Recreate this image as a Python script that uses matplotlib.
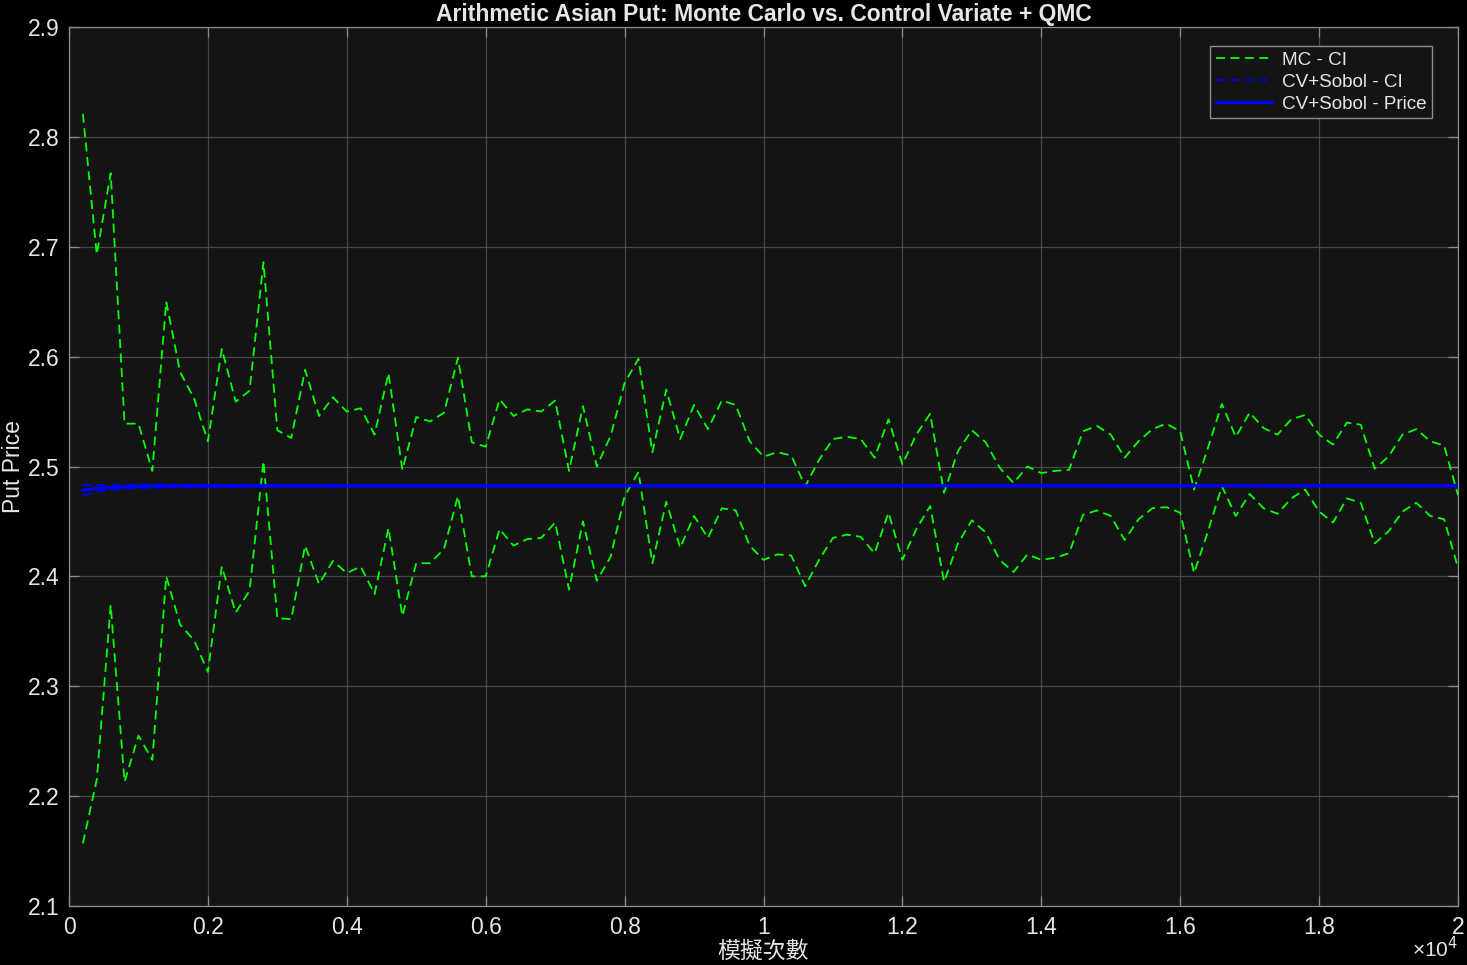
import matplotlib
matplotlib.use("Agg")
import matplotlib.pyplot as plt
from matplotlib.ticker import FixedLocator, FuncFormatter
import numpy as np

# ---------------- data ----------------
n_sims = list(range(200, 20001, 200))

mc_upper = [2.821, 2.693, 2.767, 2.539, 2.539, 2.496, 2.650, 2.586, 2.562, 2.523,
            2.607, 2.559, 2.569, 2.686, 2.533, 2.526, 2.588, 2.546, 2.563, 2.550,
            2.553, 2.529, 2.585, 2.497, 2.545, 2.541, 2.549, 2.599, 2.522, 2.518,
            2.561, 2.546, 2.552, 2.550, 2.560, 2.496, 2.555, 2.500, 2.528, 2.576,
            2.598, 2.513, 2.570, 2.525, 2.556, 2.534, 2.560, 2.556, 2.523, 2.509,
            2.513, 2.510, 2.482, 2.506, 2.525, 2.527, 2.525, 2.508, 2.543, 2.502,
            2.529, 2.548, 2.476, 2.514, 2.533, 2.522, 2.499, 2.485, 2.500, 2.494,
            2.496, 2.497, 2.532, 2.537, 2.529, 2.508, 2.523, 2.534, 2.539, 2.532,
            2.479, 2.517, 2.557, 2.527, 2.549, 2.535, 2.529, 2.543, 2.547, 2.529,
            2.520, 2.540, 2.538, 2.498, 2.509, 2.529, 2.534, 2.523, 2.519, 2.474]

mc_lower = [2.157, 2.215, 2.374, 2.213, 2.255, 2.233, 2.400, 2.356, 2.342, 2.313,
            2.409, 2.367, 2.387, 2.505, 2.362, 2.361, 2.428, 2.393, 2.414, 2.403,
            2.409, 2.384, 2.444, 2.364, 2.412, 2.412, 2.425, 2.473, 2.400, 2.400,
            2.443, 2.428, 2.434, 2.435, 2.449, 2.388, 2.450, 2.396, 2.418, 2.473,
            2.495, 2.412, 2.468, 2.426, 2.455, 2.435, 2.462, 2.460, 2.428, 2.415,
            2.420, 2.419, 2.391, 2.415, 2.435, 2.438, 2.436, 2.421, 2.458, 2.415,
            2.443, 2.464, 2.395, 2.430, 2.451, 2.440, 2.415, 2.404, 2.420, 2.415,
            2.417, 2.421, 2.456, 2.460, 2.455, 2.433, 2.452, 2.462, 2.463, 2.458,
            2.403, 2.441, 2.482, 2.455, 2.475, 2.462, 2.457, 2.471, 2.479, 2.459,
            2.449, 2.471, 2.467, 2.430, 2.441, 2.459, 2.467, 2.455, 2.452, 2.408]

cv_price = [2.4785, 2.4800, 2.4810, 2.4815, 2.4818, 2.4820, 2.4821, 2.4822, 2.4822, 2.4823,
            2.4823, 2.4823, 2.4824, 2.4824, 2.4824, 2.4824, 2.4824, 2.4825, 2.4825, 2.4825,
            2.4825, 2.4825, 2.4825, 2.4825, 2.4825, 2.4825, 2.4825, 2.4825, 2.4825, 2.4825,
            2.4825, 2.4825, 2.4825, 2.4825, 2.4825, 2.4825, 2.4825, 2.4825, 2.4825, 2.4825,
            2.4825, 2.4825, 2.4825, 2.4825, 2.4825, 2.4825, 2.4825, 2.4825, 2.4825, 2.4825,
            2.4825, 2.4825, 2.4825, 2.4825, 2.4825, 2.4825, 2.4825, 2.4825, 2.4825, 2.4825,
            2.4825, 2.4825, 2.4825, 2.4825, 2.4825, 2.4825, 2.4825, 2.4825, 2.4825, 2.4825,
            2.4825, 2.4825, 2.4825, 2.4825, 2.4825, 2.4825, 2.4825, 2.4825, 2.4825, 2.4825,
            2.4825, 2.4825, 2.4825, 2.4825, 2.4825, 2.4825, 2.4825, 2.4825, 2.4825, 2.4825,
            2.4825, 2.4825, 2.4825, 2.4825, 2.4825, 2.4825, 2.4825, 2.4825, 2.4825, 2.4825]

cv_halfwidth = [0.0048, 0.0030, 0.0024, 0.0020, 0.0017, 0.0015, 0.0014, 0.0013, 0.0012, 0.0011,
                0.0010, 0.0010, 0.0009, 0.0009, 0.0009, 0.0008, 0.0008, 0.0008, 0.0008, 0.0007,
                0.0007, 0.0007, 0.0007, 0.0007, 0.0007, 0.0006, 0.0006, 0.0006, 0.0006, 0.0006,
                0.0006, 0.0006, 0.0006, 0.0006, 0.0006, 0.0005, 0.0005, 0.0005, 0.0005, 0.0005,
                0.0005, 0.0005, 0.0005, 0.0005, 0.0005, 0.0005, 0.0005, 0.0005, 0.0005, 0.0005,
                0.0005, 0.0005, 0.0005, 0.0005, 0.0005, 0.0004, 0.0004, 0.0004, 0.0004, 0.0004,
                0.0004, 0.0004, 0.0004, 0.0004, 0.0004, 0.0004, 0.0004, 0.0004, 0.0004, 0.0004,
                0.0004, 0.0004, 0.0004, 0.0004, 0.0004, 0.0004, 0.0004, 0.0004, 0.0004, 0.0004,
                0.0004, 0.0004, 0.0004, 0.0004, 0.0004, 0.0004, 0.0004, 0.0004, 0.0004, 0.0004,
                0.0004, 0.0004, 0.0004, 0.0004, 0.0004, 0.0004, 0.0004, 0.0004, 0.0004, 0.0004]

x_ticks = [0, 2000, 4000, 6000, 8000, 10000, 12000, 14000, 16000, 18000, 20000]
x_tick_labels = ["0", "0.2", "0.4", "0.6", "0.8", "1", "1.2", "1.4", "1.6", "1.8", "2"]
y_ticks = [2.1, 2.2, 2.3, 2.4, 2.5, 2.6, 2.7, 2.8, 2.9]

title_text = "Arithmetic Asian Put: Monte Carlo vs. Control Variate + QMC"
x_label = "模擬次數"
y_label = "Put Price"
legend_labels = ["MC - CI", "CV+Sobol - CI", "CV+Sobol - Price"]

# ---------------- style ----------------
plt.rcParams['font.family'] = ['Liberation Sans', 'Noto Sans CJK TC', 'DejaVu Sans']
txt_color = "#e6e6e6"
spine_color = "#8c8c8c"

fig = plt.figure(figsize=(14.67, 9.65), dpi=100, facecolor="black")
ax = fig.add_axes([69 / 1467, 1 - 906 / 965, (1458 - 69) / 1467, (906 - 27) / 965])
ax.set_facecolor("#141414")

x = np.array(n_sims)
up = np.array(mc_upper)
lo = np.array(mc_lower)
cvp = np.array(cv_price)
cvh = np.array(cv_halfwidth)

l1, = ax.plot(x, up, color="#00ff00", lw=1.3, ls=(0, (5, 3)), label=legend_labels[0])
ax.plot(x, lo, color="#00ff00", lw=1.3, ls=(0, (5, 3)))
l2, = ax.plot(x, cvp + cvh, color="#0000ff", lw=1.3, ls=(0, (5, 3)), label=legend_labels[1])
ax.plot(x, cvp - cvh, color="#0000ff", lw=1.3, ls=(0, (5, 3)))
l3, = ax.plot(x, cvp, color="#0000ff", lw=2.3, label=legend_labels[2])

ax.set_xlim(0, 20000)
ax.set_ylim(2.1, 2.9)
ax.xaxis.set_major_locator(FixedLocator(x_ticks))
ax.xaxis.set_major_formatter(FuncFormatter(lambda v, p: x_tick_labels[x_ticks.index(int(round(v)))] if int(round(v)) in x_ticks else ""))
ax.set_yticks(y_ticks)
ax.set_yticklabels([f"{v:.1f}" for v in y_ticks])

ax.grid(True, color="#4a4a4a", lw=0.9)
ax.set_axisbelow(True)
ax.tick_params(axis="both", direction="in", length=7, width=0.9, color=spine_color,
               labelcolor=txt_color, labelsize=16.5, top=True, right=True)
ax.tick_params(axis="y", pad=7)
ax.tick_params(axis="x", pad=7)
for s in ax.spines.values():
    s.set_color(spine_color)
    s.set_linewidth(0.9)

ax.set_title(title_text, color=txt_color, fontsize=16.5, fontweight="bold", pad=4)
ax.set_xlabel(x_label, color=txt_color, fontsize=16.5, labelpad=1)
ax.set_ylabel(y_label, color=txt_color, fontsize=16.5, labelpad=2)

ax.text(1.0, -0.034, r"×10$^{4}$", transform=ax.transAxes, ha="right", va="top",
        color=txt_color, fontsize=15)

leg = ax.legend(handles=[l1, l2, l3], loc="upper right", bbox_to_anchor=(0.9813, 0.9784),
                borderaxespad=0, fontsize=13.6, handlelength=3.0, handletextpad=0.5,
                borderpad=0.3, labelspacing=0.25, frameon=True, fancybox=False, framealpha=1)
leg.get_frame().set_facecolor("#141414")
leg.get_frame().set_edgecolor("#8c8c8c")
leg.get_frame().set_linewidth(1.0)
for t in leg.get_texts():
    t.set_color(txt_color)

fig.savefig("out.png", dpi=100, facecolor="black")
